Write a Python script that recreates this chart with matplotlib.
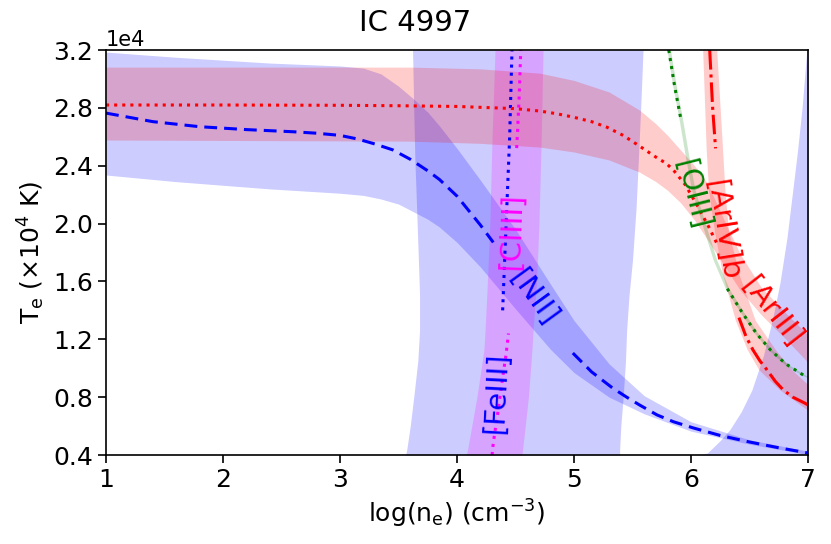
import matplotlib
matplotlib.use('Agg')
import matplotlib.pyplot as plt
from matplotlib.ticker import MultipleLocator
import numpy as np

# axes range
xmin, xmax = 1.0, 7.0
tmin, tmax = 4000, 32000

# [NII] temperature curve and its band (T vs log ne)
nii_x = [1.0, 1.4, 1.8, 2.2, 2.6, 2.8, 3.0, 3.15, 3.3, 3.45, 3.6, 3.75, 3.85, 4.0, 4.2, 4.31,
         4.5, 4.7, 4.85, 4.99, 5.15, 5.33, 5.45, 5.56, 5.71, 5.85, 6.02, 6.25, 6.5, 6.75, 7.0]
nii_T = [27640, 27050, 26700, 26500, 26350, 26250, 26100, 25850, 25500, 25100, 24450, 23650, 23050, 21900, 19900, 18700,
         16550, 14350, 12650, 11050, 9750, 8630, 8000, 7460, 6770, 6300, 5870, 5350, 4900, 4500, 4140]
niib_x = [1.0, 1.6, 2.4, 3.0, 3.2, 3.35, 3.5, 3.62, 3.75, 3.85, 4.0, 4.2, 4.5, 4.8, 5.0,
          5.3, 5.6, 6.0, 6.5, 7.0]
niib_hi = [31860, 31500, 31100, 30900, 30750, 30350, 29500, 28680, 27700, 26750, 25200, 23000, 19600, 15800, 13300,
           10300, 8100, 6300, 5050, 4260]
niib_lo = [23360, 22900, 22400, 22100, 21950, 21700, 21350, 20850, 20300, 19760, 18700, 17000, 14100, 11300, 9700,
           8000, 6850, 5650, 4750, 4030]

# [FeIII] density line and band (log ne vs T)
fe_T = [14000, 17000, 20000, 23000, 26000, 29000, 32000]
fe_x = [4.39, 4.405, 4.42, 4.435, 4.45, 4.46, 4.47]
feb_T = [4000, 4350, 6000, 8000, 10500, 12640, 15000, 17480, 21000, 24390, 28000, 32000]
feb_left = [3.56, 3.57, 3.60, 3.63, 3.665, 3.68, 3.68, 3.67, 3.655, 3.64, 3.63, 3.62]
feb_right = [5.39, 5.39, 5.40, 5.42, 5.44, 5.45, 5.47, 5.50, 5.53, 5.55, 5.57, 5.59]
# second branch of the blue band at high density
rb_T = [4000, 4140, 5000, 5730, 7000, 8490, 10900, 13500, 15890, 19000, 22320, 25000, 28060, 32000]
rb_left = [6.06, 6.14, 6.25, 6.33, 6.43, 6.52, 6.62, 6.70, 6.76, 6.82, 6.87, 6.91, 6.95, 6.99]

# [ClIII]
cl_T = [4000, 4840, 7000, 9360, 11000, 12400, 15500, 19500, 25220, 28500, 32000]
cl_x = [4.30, 4.31, 4.35, 4.39, 4.42, 4.44, 4.46, 4.48, 4.51, 4.53, 4.545]
clb_T = [4000, 4350, 8000, 11260, 12640, 16000, 19970, 26000, 32000]
clb_left = [4.08, 4.09, 4.17, 4.23, 4.24, 4.26, 4.28, 4.30, 4.325]
clb_right = [4.555, 4.56, 4.61, 4.64, 4.65, 4.68, 4.70, 4.72, 4.735]

# [ArIII]
ar3_x = [1.0, 2.0, 3.0, 3.5, 4.0, 4.5, 4.71, 4.85, 4.99, 5.15, 5.28, 5.42, 5.56, 5.69, 5.79, 5.85,
         5.95, 6.05, 6.15, 6.22, 6.3, 6.45, 6.6, 6.8, 7.0]
ar3_T = [28200, 28200, 28180, 28150, 28100, 27950, 27780, 27600, 27370, 27050, 26670, 26100, 25360, 24650, 24150, 23700,
         22700, 21300, 19800, 18650, 17600, 15900, 14600, 12900, 11300]
ar3b_x = [1.0, 3.6, 4.2, 4.71, 5.0, 5.3, 5.56, 5.7, 5.8, 5.91, 6.03, 6.14, 6.28, 6.42, 6.6, 6.8, 7.0]
ar3b_hi = [30820, 30820, 30700, 30400, 29900, 29100, 27850, 26900, 26100, 25100, 24000, 22800, 20300, 17900, 15600,
           13900, 12300]
ar3b_lo = [25780, 25700, 25550, 25290, 24950, 24400, 23560, 22900, 22300, 21450, 20250, 18900, 17150, 15400, 13700,
           12100, 10400]

# [ArIV]b
ar4_T = [32000, 28000, 25200, 22000, 19550, 16500, 13500, 12200, 11260, 10500, 9880, 9100, 8490, 8000, 7600, 7460]
ar4_x = [6.16, 6.185, 6.21, 6.235, 6.265, 6.32, 6.41, 6.47, 6.53, 6.59, 6.65, 6.72, 6.79, 6.87, 6.97, 7.0]
ar4b_T = [6800, 7500, 8500, 9900, 11300, 13300, 16500, 19500, 22300, 25100, 32000]
ar4b_left = [7.05, 6.93, 6.76, 6.58, 6.48, 6.38, 6.27, 6.20, 6.15, 6.13, 6.10]
ar4b_right = [7.30, 7.17, 7.05, 6.86, 6.72, 6.55, 6.41, 6.32, 6.29, 6.27, 6.22]

# [OIII]
o3_T = [32000, 29500, 27370, 24500, 22300, 20200, 17480, 15500, 13820, 12400, 11260, 10300, 9530, 9400]
o3_x = [5.81, 5.86, 5.91, 5.97, 6.02, 6.10, 6.205, 6.31, 6.44, 6.56, 6.68, 6.81, 6.96, 7.0]
o3_halfw = 0.015

# inline labels: text, x, T, rotation, colour
labels = [
    ('[FeIII]', 4.34, 8290, 87, 'blue'),
    ('[ClIII]', 4.47, 19500, 88, 'magenta'),
    ('[NII]', 4.65, 14850, -54, 'blue'),
    ('[OIII]', 6.01, 21970, -76, 'green'),
    ('[ArIV]b', 6.265, 19550, -81, 'red'),
    ('[ArIII]', 6.69, 13890, -52, 'red'),
]


def gap(vals, other, lo, hi):
    # hide part of a line where an inline label sits
    v = np.array(other, dtype=float)
    v[(np.array(vals) > lo) & (np.array(vals) < hi)] = np.nan
    return v


fig, ax = plt.subplots(figsize=(8.31, 5.44), dpi=100)
fig.subplots_adjust(left=0.1276, right=0.9723, bottom=0.1636, top=0.908)

# bands
ax.fill_between(niib_x, niib_lo, niib_hi, color='blue', alpha=0.2, lw=0)
ax.fill_betweenx(feb_T, feb_left, feb_right, color='blue', alpha=0.2, lw=0)
ax.fill_betweenx(rb_T, rb_left, xmax + 0.5, color='blue', alpha=0.2, lw=0)
ax.fill_betweenx(clb_T, clb_left, clb_right, color='magenta', alpha=0.2, lw=0)
ax.fill_between(ar3b_x, ar3b_lo, ar3b_hi, color='red', alpha=0.2, lw=0)
ax.fill_betweenx(ar4b_T, ar4b_left, ar4b_right, color='red', alpha=0.2, lw=0)
o3x = np.array(o3_x)
ax.fill_betweenx(o3_T, o3x - o3_halfw, o3x + o3_halfw, color='green', alpha=0.2, lw=0)

# lines (with gaps for the labels)
lw = 2.2
ax.plot(nii_x, gap(nii_x, nii_T, 4.32, 4.98), color='blue', lw=lw, ls=(0, (4.2, 2.3)))
ax.plot(fe_x, fe_T, ':', color='blue', lw=lw)
ax.plot(gap(cl_T, cl_x, 12900, 24800), cl_T, ':', color='magenta', lw=lw)
ax.plot(ar3_x, gap(ar3_x, ar3_T, 6.24, 7.1), ':', color='red', lw=lw)
ax.plot(gap(ar4_T, ar4_x, 13600, 25000), ar4_T, '-.', color='red', lw=lw)
ax.plot(gap(o3_T, o3_x, 17300, 27000), o3_T, ':', color='green', lw=lw)

for txt, x, t, rot, c in labels:
    ax.text(x, t, txt, color=c, fontsize=21, rotation=rot,
            ha='center', va='center', rotation_mode='anchor')

ax.set_xlim(xmin, xmax)
ax.set_ylim(tmin, tmax)
ax.yaxis.set_major_locator(MultipleLocator(4000))
ax.ticklabel_format(axis='y', style='sci', scilimits=(4, 4))
ax.yaxis.get_offset_text().set_fontsize(15)
ax.tick_params(labelsize=18, length=6, width=1.2)
for s in ax.spines.values():
    s.set_linewidth(1.2)

ax.set_xlabel(r'log(n$_\mathrm{e}$) (cm$^{-3}$)', fontsize=18)
ax.set_ylabel(r'T$_\mathrm{e}$ (×10$^4$ K)', fontsize=18)
fig.suptitle('IC 4997', fontsize=21, y=0.958, va='center')

plt.savefig('out.png', dpi=100)
